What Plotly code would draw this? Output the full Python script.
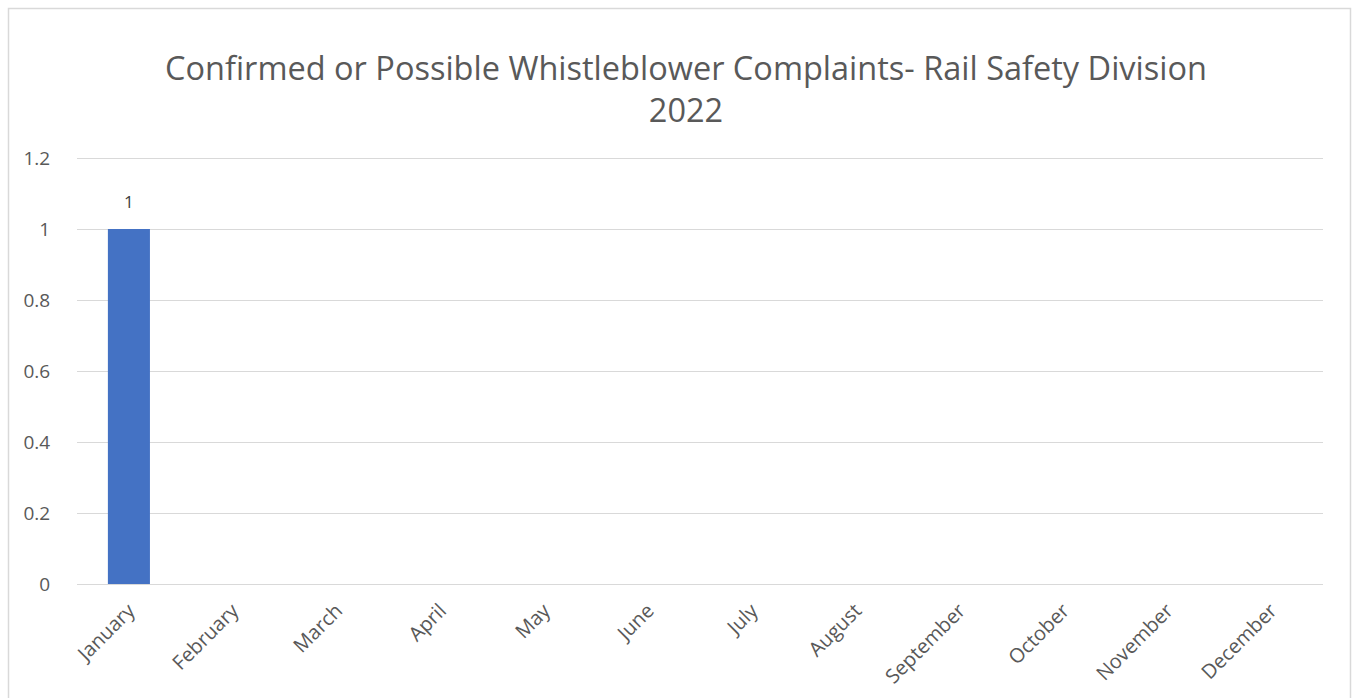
import plotly.graph_objects as go

months = ["January", "February", "March", "April", "May", "June", "July",
          "August", "September", "October", "November", "December"]
complaints = [1, None, None, None, None, None, None, None, None, None, None, None]
y_ticks = [0, 0.2, 0.4, 0.6, 0.8, 1, 1.2]
title_lines = ["Confirmed or Possible Whistleblower Complaints- Rail Safety Division", "2022"]

FONT = "Open Sans"
TEXT = "#595959"
GRID = "#d9d9d9"

W, H = 1354, 698
L, R, T, B = 77, 31, 157, 114
pw, ph = W - L - R, H - T - B


def px_x(x):
    return (x - L) / pw


def px_y(y):
    return (H - B - y) / ph


fig = go.Figure()
fig.add_trace(go.Bar(
    x=months,
    y=complaints,
    marker=dict(color="#4472C4", line=dict(width=0)),
    width=0.405,
    cliponaxis=False,
))

# value labels above the bars
for m, v in zip(months, complaints):
    if v is not None:
        fig.add_annotation(
            x=m, y=v, text="%g" % v, showarrow=False,
            yanchor="bottom", yshift=14,
            font=dict(family=FONT, size=17, color="#404040"),
        )

fig.update_layout(
    width=W, height=H,
    margin=dict(l=L, r=R, t=T, b=B, pad=0, autoexpand=False),
    paper_bgcolor="white",
    plot_bgcolor="white",
    showlegend=False,
    font=dict(family=FONT, color=TEXT),
    title=dict(
        text="<br>".join(title_lines),
        xref="container", x=686 / W, xanchor="center",
        y=1 - 80 / H, yanchor="top",
        font=dict(family=FONT, size=32.5, color=TEXT),
    ),
    xaxis=dict(
        type="category",
        tickangle=-45,
        tickfont=dict(family=FONT, size=20, color=TEXT),
        ticklabelstandoff=6,
        automargin=False,
        showgrid=False,
        showline=True, linecolor=GRID, linewidth=1,
        ticks="",
    ),
    yaxis=dict(
        # a little headroom so the 1.2 gridline is drawn inside the plot
        range=[0, 1.203],
        tickvals=y_ticks,
        ticktext=["%g" % v for v in y_ticks],
        tickfont=dict(family=FONT, size=19, color=TEXT),
        automargin=False,
        showgrid=True, gridcolor=GRID, gridwidth=1,
        zeroline=False,
        showline=False,
        ticks="outside", ticklen=22, tickcolor="rgba(0,0,0,0)",
    ),
    shapes=[
        # chart border
        dict(type="rect", xref="paper", yref="paper",
             x0=px_x(8.5), x1=px_x(1350.5), y0=px_y(720), y1=px_y(8.5),
             line=dict(color=GRID, width=1.5),
             fillcolor="rgba(0,0,0,0)", layer="below"),
    ],
)

fig.write_html("out.html")
